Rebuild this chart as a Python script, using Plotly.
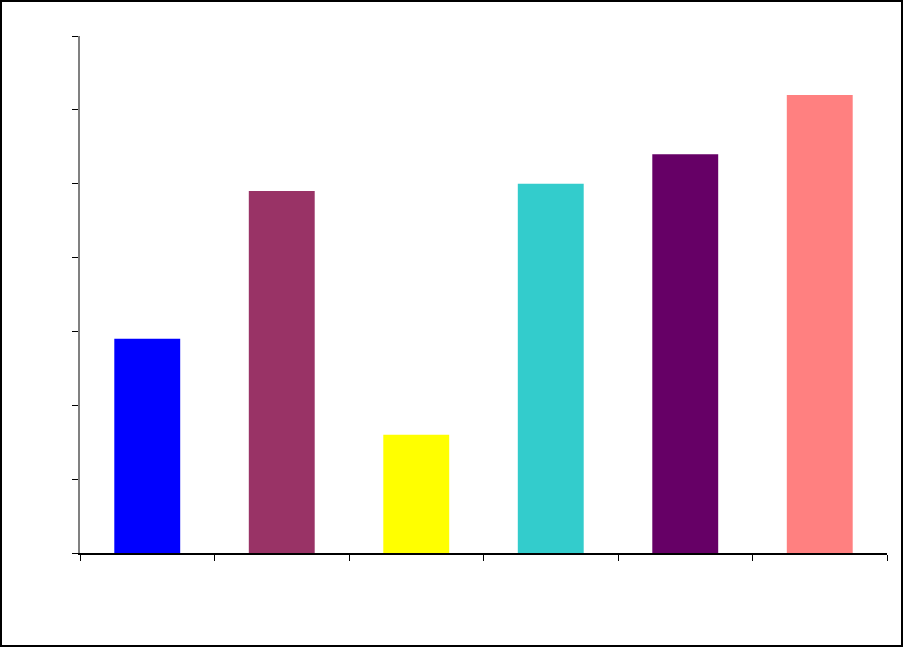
import plotly.graph_objects as go

# six categories, no labels shown in the original
categories = ["A", "B", "C", "D", "E", "F"]
values = [2.9, 4.9, 1.6, 5.0, 5.4, 6.2]
colors = ["#0000FF", "#993366", "#FFFF00", "#33CCCC", "#660066", "#FF8080"]

W, H = 903, 647
L, R, T, B = 80, 16, 36, 94
pw = W - L - R
ph = H - T - B

fig = go.Figure()
fig.add_trace(go.Bar(
	x=categories,
	y=values,
	marker=dict(color=colors, line=dict(width=0)),
	width=0.49,
))

fig.update_layout(
	width=W,
	height=H,
	margin=dict(l=L, r=R, t=T, b=B, pad=0),
	paper_bgcolor="white",
	plot_bgcolor="white",
	showlegend=False,
	xaxis=dict(
		showgrid=False,
		showticklabels=False,
		ticks="outside",
		tickson="boundaries",
		ticklen=6,
		tickcolor="black",
		showline=True,
		linecolor="black",
		linewidth=1.5,
		zeroline=False,
	),
	yaxis=dict(
		range=[0, 7],
		dtick=1,
		showgrid=False,
		showticklabels=False,
		ticks="outside",
		ticklen=6,
		tickcolor="black",
		showline=True,
		linecolor="#808080",
		linewidth=2,
		zeroline=False,
	),
)

# black frame round the whole picture
fig.add_shape(
	type="rect", xref="paper", yref="paper",
	x0=-(L - 1) / pw, x1=1 + (R - 1) / pw,
	y0=-(B - 1) / ph, y1=1 + (T - 1) / ph,
	line=dict(color="black", width=2),
)

# page body has a default margin, drop it so the figure fills the window
fig.write_html(
	"out.html",
	config={"displayModeBar": False},
	post_script="document.body.style.margin='0';document.body.style.overflow='hidden';",
)
